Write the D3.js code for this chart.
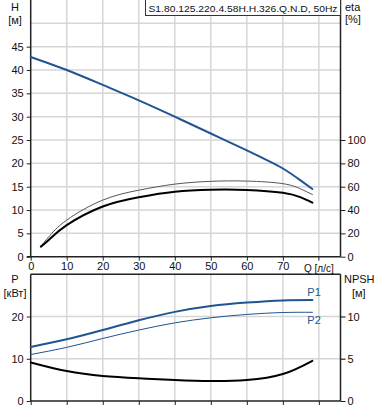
<!DOCTYPE html>
<html><head><meta charset="utf-8">
<script src="https://cdn.jsdelivr.net/npm/d3@7"></script>
<style>
body{margin:0;background:#fff;}
svg{display:block;font-family:"Liberation Sans",Arial,sans-serif;font-size:11px;}
</style></head><body>
<svg id="c" width="378" height="410"></svg>
<script>
// ---- data ----
const title = "S1.80.125.220.4.58H.H.326.Q.N.D, 50Hz";
const qTicks = [0,10,20,30,40,50,60,70];
const hTicks = [0,5,10,15,20,25,30,35,40,45];
const etaTicks = [0,20,40,60,80,100];
const pTicks = [0,10,20];
const npshTicks = [0,5,10];

const qH = [0,10,20,30,40,50,60,65,70,75,78.2];
const H  = [42.8,40.0,36.8,33.5,30.0,26.4,22.8,20.9,18.9,16.3,14.5];

const qEta = [2.8,5,10,20,30,40,50,60,70,75,78.2];
const etaPump  = [8.6,14.3,27.0,43.0,51.0,55.7,57.4,57.2,54.8,50.8,46.3];
const etaHydr  = [8.8,17.0,31.4,48.5,57.0,62.2,64.6,64.8,62.6,58.0,53.3];

const qP = [0,10,20,30,40,50,60,70,78.2];
const P1 = [12.8,14.6,16.8,19.1,21.1,22.5,23.3,23.8,23.9];
const P2 = [11.0,12.7,14.8,16.8,18.5,19.7,20.5,20.95,21.0];
const NPSH = [4.57,3.54,2.95,2.68,2.48,2.36,2.48,3.19,4.76];

// ---- layout ----
const svg = d3.select("#c");
const L = 30.7, R = 340.5;
const x = d3.scaleLinear().domain([0,86]).range([L,R]);
const yH = d3.scaleLinear().domain([0,55]).range([256.7,0]);
const yEta = d3.scaleLinear().domain([0,220]).range([256.7,0]);
const yP = d3.scaleLinear().domain([0,30]).range([401,274.3]);
const yN = d3.scaleLinear().domain([0,15]).range([401,274.3]);

const gridC = "#d6d6d6", axC = "#222", blue = "#1f5591";

// top grid
const gTop = svg.append("g");
gTop.selectAll("line.v").data(qTicks.slice(1).concat([80])).enter().append("line")
  .attr("x1",d=>x(d)).attr("x2",d=>x(d)).attr("y1",0).attr("y2",yH(0))
  .attr("stroke",gridC).attr("stroke-width",1.5);
gTop.selectAll("line.h").data(d3.range(5,55,5)).enter().append("line")
  .attr("x1",L).attr("x2",R).attr("y1",d=>yH(d)).attr("y2",d=>yH(d))
  .attr("stroke",gridC).attr("stroke-width",1.5);

// bottom grid
const gBot = svg.append("g");
gBot.selectAll("line.v").data(qTicks.slice(1).concat([80])).enter().append("line")
  .attr("x1",d=>x(d)).attr("x2",d=>x(d)).attr("y1",yP(30)).attr("y2",yP(0))
  .attr("stroke",gridC).attr("stroke-width",1.5);
gBot.selectAll("line.h").data([10,20]).enter().append("line")
  .attr("x1",L).attr("x2",R+5).attr("y1",d=>yP(d)).attr("y2",d=>yP(d))
  .attr("stroke",gridC).attr("stroke-width",1.5);

// axes top
const axL = svg.append("g").attr("transform",`translate(${L},0)`)
  .call(d3.axisLeft(yH).tickValues(hTicks).tickSize(4).tickPadding(3));
const axR = svg.append("g").attr("transform",`translate(${R},0)`)
  .call(d3.axisRight(yEta).tickValues(etaTicks).tickSize(5).tickPadding(2));
const axB = svg.append("g").attr("transform",`translate(0,${yH(0)})`)
  .call(d3.axisBottom(x).tickValues(qTicks).tickSize(4).tickPadding(2));
// bottom plot axes
const axPL = svg.append("g").attr("transform",`translate(${L},0)`)
  .call(d3.axisLeft(yP).tickValues(pTicks).tickSize(4).tickPadding(3));
const axPR = svg.append("g").attr("transform",`translate(${R},0)`)
  .call(d3.axisRight(yN).tickValues(npshTicks).tickSize(5).tickPadding(2));
const axPB = svg.append("g").attr("transform",`translate(0,${yP(0)})`)
  .call(d3.axisBottom(x).tickValues(qTicks.concat([80])).tickSize(4).tickFormat(""));
[axL,axR,axB,axPL,axPR,axPB].forEach(a=>{
  a.select(".domain").attr("stroke",axC).attr("stroke-width",1.5);
  a.selectAll(".tick line").attr("stroke",axC);
  a.selectAll("text").attr("fill","#111").style("font-size","11px").style("font-family","Liberation Sans, Arial, sans-serif");
});
axL.select(".domain").attr("d",`M-4,${yH(0)}H0V0`);
axR.select(".domain").attr("d",`M0,${yEta(0)}V0`);
axB.select(".domain").attr("d",`M${L},0H${R}`);
axPL.select(".domain").attr("d",`M0,${yP(0)}V${yP(30)}`);
axPR.select(".domain").attr("d",`M0,${yN(0)}V${yN(15)}`);
axPB.select(".domain").attr("d",`M${L},0H${R}`);
// top border of bottom plot
svg.append("line").attr("x1",L).attr("x2",R).attr("y1",yP(30)).attr("y2",yP(30))
  .attr("stroke",axC).attr("stroke-width",1.5);
// x tick at 80 with Q label
axB.append("line").attr("x1",x(80)).attr("x2",x(80)).attr("y1",0).attr("y2",4).attr("stroke",axC);
axB.append("text").attr("x",x(80)).attr("y",15).attr("text-anchor","middle")
  .attr("fill","#111").text("Q [л/с]");

// axis titles
function lbl(t,xx,yy,anchor){svg.append("text").attr("x",xx).attr("y",yy).attr("text-anchor",anchor||"middle").attr("fill","#111").text(t);}
lbl("H",15,11); lbl("[м]",15,24);
lbl("eta",345,11,"start"); lbl("[%]",345,23,"start");
lbl("P",15,283); lbl("[кВт]",15,297);
lbl("NPSH",344,283,"start"); lbl("[м]",352,297,"start");

// title box
svg.append("rect").attr("x",145.5).attr("y",-0.5).attr("width",195).attr("height",16)
  .attr("fill","#fff").attr("stroke","#333").attr("stroke-width",1);
svg.append("text").attr("x",148.5).attr("y",12).attr("fill","#111")
  .style("font-size","9.9px")
  .attr("textLength",189).attr("lengthAdjust","spacingAndGlyphs").text(title);

// curves
const curve = d3.curveNatural;
function path(xs,ys,yS,col,w){
  const line = d3.line().x((d,i)=>x(xs[i])).y(d=>yS(d)).curve(curve);
  svg.append("path").datum(ys).attr("d",line).attr("fill","none")
    .attr("stroke",col).attr("stroke-width",w).attr("stroke-linecap","round");
}
path(qH,H,yH,blue,2);
path(qEta,etaHydr,yEta,"#555",1);
path(qEta,etaPump,yEta,"#000",2);
path(qP,P1,yP,blue,2);
path(qP,P2,yP,blue,1);
path(qP,NPSH,yN,"#000",2);

svg.append("text").attr("x",x(76.8)).attr("y",yP(P1[8])-4).attr("fill",blue).text("P1");
svg.append("text").attr("x",x(76.8)).attr("y",yP(P2[8])+12).attr("fill",blue).text("P2");
</script></body></html>
